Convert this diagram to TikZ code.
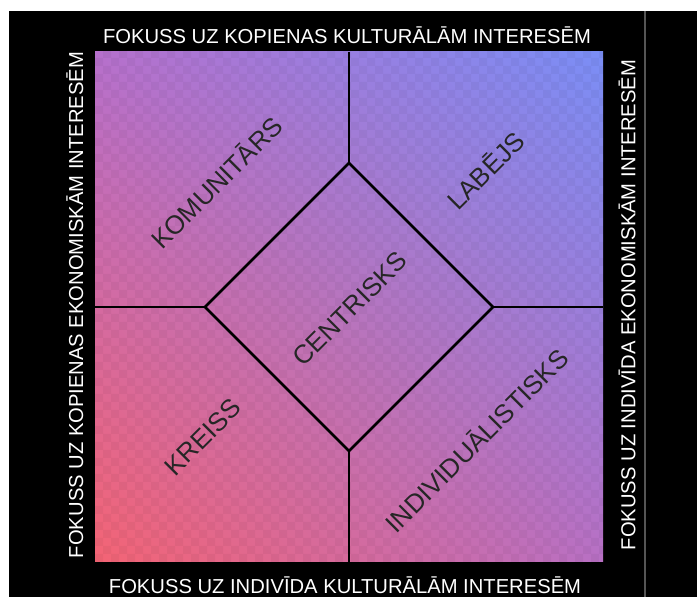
\documentclass[tikz,border=0pt]{standalone}
\usepackage{fontspec}
\setmainfont{Liberation Sans}
\usetikzlibrary{shadings}
\definecolor{cUL}{RGB}{182,112,204}
\definecolor{cUR}{RGB}{122,142,246}
\definecolor{cLL}{RGB}{244,100,116}
\definecolor{cLR}{RGB}{184,112,196}
\definecolor{sepgray}{RGB}{85,85,85}
\begin{document}
\begin{tikzpicture}[x=1pt,y=1pt,
  axislabel/.style={text=white,font=\fontsize{20.2}{24}\selectfont,inner sep=0pt},
  quadlabel/.style={text=black!85,font=\fontsize{26}{31}\selectfont,inner sep=0pt,rotate=45},
  divider/.style={line width=2.6pt,black,line join=miter}]
\useasboundingbox (0,0) rectangle (697,597);
\fill[white] (0,0) rectangle (697,597);
\fill[black] (9,0) rectangle (697,586);
\coordinate (sepTop) at (645,586);
\coordinate (sepBot) at (645,0);
\draw[line width=2pt,sepgray] (sepTop) -- (sepBot);
% square
\coordinate (sqSW) at (95,35);
\coordinate (sqNE) at (603,545);
\shade[upper left=cUL,upper right=cUR,lower left=cLL,lower right=cLR] (sqSW) rectangle (sqNE);
\begin{scope}
\clip (sqSW) rectangle (sqNE);
\fill[black,fill opacity=0.04] \foreach \j in {0,...,63} { \foreach \i in {0,2,...,62} { ({95+(\i+mod(\j,2))*8},{35+\j*8}) rectangle ++(8,8) } };
\end{scope}
% divider points
\coordinate (topMid) at (349,545);
\coordinate (botMid) at (349,35);
\coordinate (leftMid) at (95,290);
\coordinate (rightMid) at (603,290);
\coordinate (dT) at (349,434);
\coordinate (dB) at (349,146);
\coordinate (dL) at (205,290);
\coordinate (dR) at (493,290);
\draw[divider] (topMid) -- (dT);
\draw[divider] (dB) -- (botMid);
\draw[divider] (leftMid) -- (dL);
\draw[divider] (dR) -- (rightMid);
\draw[divider] (dT) -- (dR) -- (dB) -- (dL) -- cycle;
% axis labels
\node[axislabel] (topLab) at (347,561.5) {FOKUSS UZ KOPIENAS KULTURĀLĀM INTERESĒM};
\node[axislabel] (botLab) at (345,12) {FOKUSS UZ INDIVĪDA KULTURĀLĀM INTERESĒM};
\node[axislabel,rotate=90] (leftLab) at (75,292) {FOKUSS UZ KOPIENAS EKONOMISKĀM INTERESĒM};
\node[axislabel,rotate=90] (rightLab) at (627,292) {FOKUSS UZ INDIVĪDA EKONOMISKĀM INTERESĒM};
% quadrant labels
\node[quadlabel] (komun) at (216,415) {KOMUNITĀRS};
\node[quadlabel] (labejs) at (485,427) {LABĒJS};
\node[quadlabel] (centr) at (350,288) {CENTRISKS};
\node[quadlabel] (kreiss) at (203,160) {KREISS};
\node[quadlabel] (indiv) at (476,157) {INDIVIDUĀLISTISKS};
\end{tikzpicture}
\end{document}
